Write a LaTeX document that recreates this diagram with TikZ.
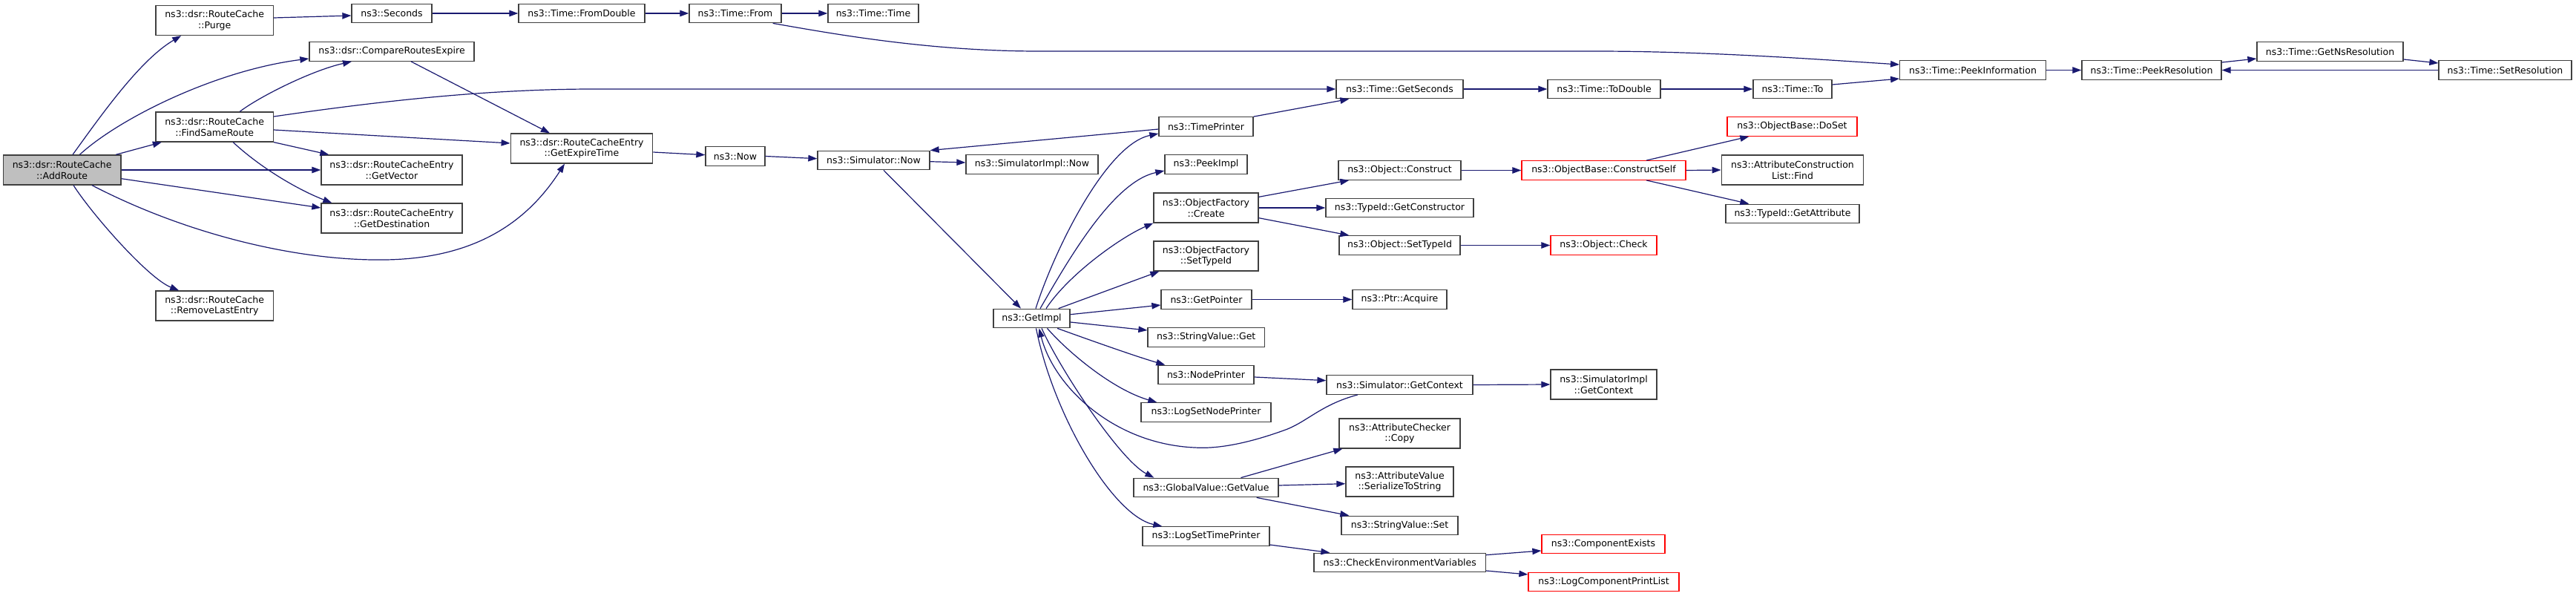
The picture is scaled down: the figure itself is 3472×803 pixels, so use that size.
\documentclass[tikz,border=0pt]{standalone}
\usepackage{fontspec}
\setmainfont{DejaVu Sans}
\usetikzlibrary{arrows.meta}
\definecolor{edgec}{HTML}{191970}
\definecolor{nodeb}{HTML}{404040}
\definecolor{rootf}{HTML}{BFBFBF}
\newcommand\nfont{\fontsize{12.5}{14.7}\selectfont}
\begin{document}
\begin{tikzpicture}[x=1pt,y=-1pt,
  fn/.style={draw=nodeb, line width=1.3pt, fill=white, inner sep=0pt, align=center, font=\nfont},
  lone/.style={minimum height=25.5pt},
  ltwo/.style={minimum height=40pt},
  redn/.style={draw=red},
  call/.style={draw=edgec, line width=1.2pt, -{Triangle[length=12pt,width=8.5pt]}}]
\fill[white] (0,0) rectangle (3472,803);
\useasboundingbox (0,0) rectangle (3472,803);
% nodes
\node[fn,ltwo,fill=rootf,minimum width=158.6pt] (addroute) at (83.7,229) {ns3::dsr::RouteCache\\::AddRoute};
\node[fn,ltwo,minimum width=158.5pt] (purge) at (289.2,27.5) {ns3::dsr::RouteCache\\::Purge};
\node[fn,lone,minimum width=108pt] (seconds) at (528,18) {ns3::Seconds};
\node[fn,lone,minimum width=222pt] (compare) at (528,69.5) {ns3::dsr::CompareRoutesExpire};
\node[fn,ltwo,minimum width=158.5pt] (findsame) at (289.2,171) {ns3::dsr::RouteCache\\::FindSameRoute};
\node[fn,ltwo,minimum width=190pt] (getvector) at (528,229) {ns3::dsr::RouteCacheEntry\\::GetVector};
\node[fn,ltwo,minimum width=190pt] (getdest) at (528,294) {ns3::dsr::RouteCacheEntry\\::GetDestination};
\node[fn,ltwo,minimum width=158.5pt] (removelast) at (289.2,412) {ns3::dsr::RouteCache\\::RemoveLastEntry};
\node[fn,lone,minimum width=170pt] (fromdouble) at (784,18) {ns3::Time::FromDouble};
\node[fn,ltwo,minimum width=191.5pt] (getexpire) at (784,200) {ns3::dsr::RouteCacheEntry\\::GetExpireTime};
\node[fn,lone,minimum width=124pt] (timefrom) at (991,18) {ns3::Time::From};
\node[fn,lone,minimum width=80pt] (now) at (991,210.5) {ns3::Now};
\node[fn,lone,minimum width=122pt] (timetime) at (1177,18) {ns3::Time::Time};
\node[fn,lone,minimum width=151pt] (simnow) at (1177.5,216) {ns3::Simulator::Now};
\node[fn,lone,minimum width=178pt] (simimplnow) at (1391,221.5) {ns3::SimulatorImpl::Now};
\node[fn,lone,minimum width=103pt] (getimpl) at (1390.5,429) {ns3::GetImpl};
\node[fn,lone,minimum width=127pt] (timeprinter) at (1625.5,170.5) {ns3::TimePrinter};
\node[fn,lone,minimum width=111pt] (peekimpl) at (1625.5,221.5) {ns3::PeekImpl};
\node[fn,ltwo,minimum width=141pt] (ofcreate) at (1625.5,280) {ns3::ObjectFactory\\::Create};
\node[fn,ltwo,minimum width=141pt] (ofsettypeid) at (1625.5,345) {ns3::ObjectFactory\\::SetTypeId};
\node[fn,lone,minimum width=122pt] (getpointer) at (1626,403.5) {ns3::GetPointer};
\node[fn,lone,minimum width=157.5pt] (strget) at (1625.75,454.5) {ns3::StringValue::Get};
\node[fn,lone,minimum width=129pt] (nodeprinter) at (1625.5,505) {ns3::NodePrinter};
\node[fn,lone,minimum width=175pt] (logsetnode) at (1625.5,555.5) {ns3::LogSetNodePrinter};
\node[fn,lone,minimum width=195pt] (gvgetvalue) at (1625.5,657) {ns3::GlobalValue::GetValue};
\node[fn,lone,minimum width=171pt] (logsettime) at (1625.5,722.5) {ns3::LogSetTimePrinter};
\node[fn,lone,minimum width=171pt] (getseconds) at (1886.5,120) {ns3::Time::GetSeconds};
\node[fn,lone,minimum width=165pt] (objconstruct) at (1886.5,229.5) {ns3::Object::Construct};
\node[fn,lone,minimum width=199pt] (getconstructor) at (1886.5,280) {ns3::TypeId::GetConstructor};
\node[fn,lone,minimum width=163pt] (objsettypeid) at (1886.5,330.5) {ns3::Object::SetTypeId};
\node[fn,lone,minimum width=127pt] (ptracquire) at (1886.5,403.5) {ns3::Ptr::Acquire};
\node[fn,lone,minimum width=197pt] (simgetcontext) at (1886.5,518.5) {ns3::Simulator::GetContext};
\node[fn,ltwo,minimum width=163pt] (acopy) at (1886.5,584) {ns3::AttributeChecker\\::Copy};
\node[fn,ltwo,minimum width=145pt] (serialize) at (1886.5,649) {ns3::AttributeValue\\::SerializeToString};
\node[fn,lone,minimum width=157pt] (strset) at (1886.5,708) {ns3::StringValue::Set};
\node[fn,lone,minimum width=231.5pt] (checkenv) at (1886.75,758) {ns3::CheckEnvironmentVariables};
\node[fn,lone,minimum width=152pt] (todouble) at (2162,120) {ns3::Time::ToDouble};
\node[fn,lone,redn,minimum width=221pt] (constructself) at (2161.5,229.5) {ns3::ObjectBase::ConstructSelf};
\node[fn,lone,redn,minimum width=143pt] (objcheck) at (2161.5,330.5) {ns3::Object::Check};
\node[fn,ltwo,minimum width=143pt] (simimplctx) at (2161.5,518) {ns3::SimulatorImpl\\::GetContext};
\node[fn,lone,redn,minimum width=166pt] (compexists) at (2161,733) {ns3::ComponentExists};
\node[fn,lone,redn,minimum width=203pt] (logcompprint) at (2161.5,784) {ns3::LogComponentPrintList};
\node[fn,lone,minimum width=106pt] (timeto) at (2416,120) {ns3::Time::To};
\node[fn,lone,redn,minimum width=175pt] (doset) at (2415.5,170.5) {ns3::ObjectBase::DoSet};
\node[fn,ltwo,minimum width=191.5pt] (acfind) at (2416,229) {ns3::AttributeConstruction\\List::Find};
\node[fn,lone,minimum width=180pt] (getattribute) at (2416,288) {ns3::TypeId::GetAttribute};
\node[fn,lone,minimum width=196.5pt] (peekinfo) at (2659,94.5) {ns3::Time::PeekInformation};
\node[fn,lone,minimum width=188pt] (peekres) at (2900,94.5) {ns3::Time::PeekResolution};
\node[fn,lone,minimum width=197pt] (getnsres) at (3140.5,69.5) {ns3::Time::GetNsResolution};
\node[fn,lone,minimum width=179pt] (setres) at (3376.5,94.5) {ns3::Time::SetResolution};
% edges
\draw[call] ([xshift=14.3pt]addroute.north) .. controls (140,150) and (190,80) .. ([xshift=-45pt]purge.south);
\draw[call] ([xshift=23.7pt]addroute.north) .. controls (160,160) and (290,95) .. ([yshift=-9.5pt]compare.west);
\draw[call] ([xshift=-7.5pt]addroute.north east) -- ([xshift=8.5pt]findsame.south west);
\draw[call] (addroute.east) -- (getvector.west);
\draw[call] ([yshift=-11.7pt]addroute.east) -- ([yshift=14pt]getdest.west);
\draw[call] ([xshift=40.3pt]addroute.south) .. controls (250,315) and (400,352) .. (520,350) .. controls (640,348) and (710,300) .. ([xshift=-23pt]getexpire.south);
\draw[call] ([xshift=15.3pt]addroute.south) .. controls (125,290) and (200,375) .. ([xshift=-48pt]removelast.north);
\draw[call] ([yshift=3.5pt]purge.east) -- ([yshift=-3pt]seconds.west);
\draw[call] ([xshift=34pt]findsame.north) .. controls (350,130) and (420,95) .. ([xshift=-54pt]compare.south);
\draw[call] ([yshift=14pt]findsame.east) .. controls (500,138) and (650,120) .. (800,120) -- (getseconds.west);
\draw[call] ([yshift=-4pt]findsame.east) -- ([yshift=7pt]getexpire.west);
\draw[call] (findsame.south east) -- ([xshift=11pt]getvector.north west);
\draw[call] ([xshift=25pt]findsame.south) .. controls (350,225) and (400,255) .. ([xshift=15pt]getdest.north west);
\draw[call] ([xshift=26pt]compare.south) -- ([xshift=-43pt]getexpire.north);
\draw[call] (seconds.east) -- (fromdouble.west);
\draw[call] (fromdouble.east) -- (timefrom.west);
\draw[call] (timefrom.east) -- (timetime.west);
\draw[call] ([xshift=-12pt]timefrom.south east) .. controls (1120,45) and (1250,69) .. (1400,69) -- (2150,69) .. controls (2300,69) and (2450,80) .. ([yshift=7.5pt]peekinfo.west);
\draw[call] ([yshift=-5pt]getexpire.east) -- ([yshift=1.8pt]now.west);
\draw[call] (now.east) -- ([yshift=2.3pt]simnow.west);
\draw[call] ([yshift=-1.7pt]simnow.east) -- ([yshift=2.5pt]simimplnow.west);
\draw[call] ([xshift=13.5pt]simnow.south) -- ([xshift=-14.5pt]getimpl.north);
\draw[call] ([yshift=-3.5pt]timeprinter.west) -- (simnow.north east);
\draw[call] (timeprinter.north east) -- ([xshift=18pt]getseconds.south west);
\draw[call] ([xshift=5.5pt]getimpl.north) .. controls (1420,340) and (1490,195) .. ([yshift=-9.5pt]timeprinter.west);
\draw[call] ([xshift=11.5pt]getimpl.north) .. controls (1440,350) and (1500,245) .. ([yshift=-8.5pt]peekimpl.west);
\draw[call] ([xshift=19.5pt]getimpl.north) .. controls (1440,370) and (1510,320) .. (ofcreate.south west);
\draw[call] ([xshift=-16pt]getimpl.north east) -- ([xshift=8pt]ofsettypeid.south west);
\draw[call] ([yshift=5.3pt]getimpl.east) -- ([yshift=-7.5pt]getpointer.west);
\draw[call] ([yshift=-5pt]getimpl.east) -- ([yshift=9.5pt]strget.west);
\draw[call] ([xshift=-17.5pt]getimpl.south east) .. controls (1460,455) and (1530,480) .. ([xshift=10pt]nodeprinter.north west);
\draw[call] ([xshift=21pt]getimpl.south) .. controls (1440,475) and (1500,525) .. ([xshift=22pt]logsetnode.north west);
\draw[call] ([xshift=13.5pt]getimpl.south) .. controls (1430,500) and (1510,620) .. ([xshift=28pt]gvgetvalue.north west);
\draw[call] ([xshift=6pt]getimpl.south) .. controls (1420,560) and (1500,695) .. ([xshift=27pt]logsettime.north west);
\draw[call] ([xshift=-56.5pt]simgetcontext.south) .. controls (1780,545) and (1760,570) .. (1730,580) .. controls (1680,598) and (1640,605) .. (1610,603) .. controls (1500,598) and (1420,520) .. ([xshift=10pt]getimpl.south);
\draw[call] ([yshift=-3pt]nodeprinter.east) -- ([yshift=5.8pt]simgetcontext.west);
\draw[call] (getpointer.east) -- (ptracquire.west);
\draw[call] ([yshift=-6pt]ofcreate.north east) -- ([xshift=15pt]objconstruct.south west);
\draw[call] (ofcreate.east) -- (getconstructor.west);
\draw[call] ([yshift=7pt]ofcreate.south east) -- ([xshift=14pt]objsettypeid.north west);
\draw[call] (objconstruct.east) -- (constructself.west);
\draw[call] (objsettypeid.east) -- (objcheck.west);
\draw[call] ([xshift=57.5pt]constructself.north) -- ([xshift=30pt]doset.south west);
\draw[call] (constructself.east) -- (acfind.west);
\draw[call] ([xshift=57.5pt]constructself.south) -- ([xshift=32pt]getattribute.north west);
\draw[call] (getseconds.east) -- (todouble.west);
\draw[call] (todouble.east) -- (timeto.west);
\draw[call] ([yshift=6pt]timeto.east) -- ([yshift=-11.5pt]peekinfo.west);
\draw[call] (peekinfo.east) -- (peekres.west);
\draw[call] ([yshift=10.5pt]peekres.east) -- ([yshift=-9.5pt]getnsres.west);
\draw[call] ([yshift=-10.5pt]getnsres.east) -- ([yshift=9.5pt]setres.west);
\draw[call] (setres.west) -- (peekres.east);
\draw[call] (simgetcontext.east) -- (simimplctx.west);
\draw[call] ([xshift=47pt]gvgetvalue.north) -- ([xshift=5pt]acopy.south west);
\draw[call] ([yshift=3pt]gvgetvalue.east) -- ([yshift=-2.7pt]serialize.west);
\draw[call] ([xshift=-30pt]gvgetvalue.south east) -- ([xshift=11pt]strset.north west);
\draw[call] ([yshift=-11.5pt]logsettime.east) -- ([xshift=22pt]checkenv.north west);
\draw[call] ([yshift=10.3pt]checkenv.east) -- ([yshift=-9pt]compexists.west);
\draw[call] ([yshift=-11pt]checkenv.east) -- ([yshift=10pt]logcompprint.west);
\end{tikzpicture}
\end{document}
